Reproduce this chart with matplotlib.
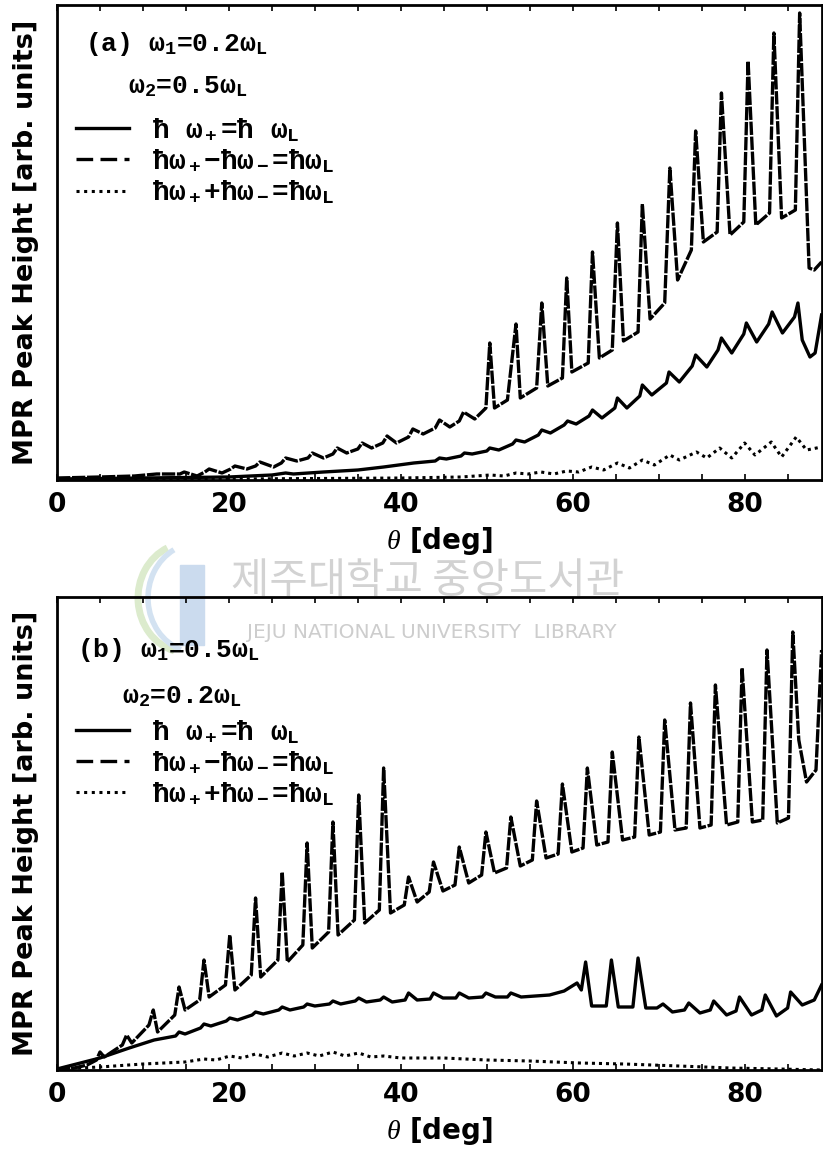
import matplotlib
matplotlib.use('Agg')
import matplotlib.pyplot as plt
from matplotlib.lines import Line2D
from matplotlib.patches import Rectangle, Arc
from matplotlib.ticker import MultipleLocator

plt.rcParams['mathtext.fontset'] = 'custom'
plt.rcParams['mathtext.rm'] = 'Liberation Mono:bold'
plt.rcParams['mathtext.bf'] = 'Liberation Mono:bold'
plt.rcParams['mathtext.it'] = 'Liberation Serif:italic'

# ---- panel (a): w1 = 0.2 wL, w2 = 0.5 wL  (peak heights in arb. units) ----
theta_a_plus = [0.0, 10.0, 20.0, 25.0, 26.6, 27.5, 31.0, 35.0, 38.0, 41.5, 44.0, 44.5, 45.3,
                47.0, 47.4, 48.3, 50.0, 50.35, 51.4, 53.0, 53.4, 54.4, 56.0, 56.4, 57.4,
                59.0, 59.4, 60.4, 61.9, 62.3, 63.4, 64.9, 65.2, 66.3, 67.8, 68.1, 69.2,
                70.9, 71.2, 72.4, 73.9, 74.3, 75.6, 76.9, 77.3, 78.5, 79.9, 80.2, 81.4,
                82.8, 83.2, 84.4, 85.8, 86.2, 86.7, 87.6, 88.2, 88.95]
height_a_plus = [1, 2, 3, 5, 7, 6, 8, 10, 13, 17, 19, 22, 21,
                 24, 27, 26, 29, 32, 30, 36, 40, 38, 45, 50, 47,
                 55, 59, 56, 64, 70, 62, 72, 82, 72, 84, 95, 85,
                 97, 108, 98, 114, 125, 113, 130, 142, 127, 146, 157, 138,
                 156, 168, 147, 163, 177, 140, 123, 127, 165]

theta_a_diff = [0.0, 5.0, 9.0, 11.6, 14.3, 14.8, 16.3, 17.2, 17.7, 19.2, 20.2, 20.7, 22.1,
                23.1, 23.6, 25.2, 26.1, 26.6, 27.9, 29.2, 29.7, 31.0, 32.1, 32.6, 33.7,
                35.0, 35.5, 36.6, 37.9, 38.4, 39.5, 40.9, 41.4, 42.6, 44.0, 44.5, 45.7,
                46.8, 47.3, 48.6, 49.9, 50.35, 50.9, 52.4, 53.4, 53.9, 55.8, 56.4, 57.1,
                58.8, 59.3, 59.9, 61.8, 62.3, 63.1, 64.6, 65.2, 65.9, 67.6, 68.1, 69.0,
                70.7, 71.3, 72.2, 73.8, 74.3, 75.2, 76.8, 77.3, 78.3, 79.9, 80.4, 81.3,
                82.9, 83.4, 84.3, 85.9, 86.4, 87.5, 88.1, 88.95]
height_a_diff = [2, 3, 4, 6, 6, 8, 4, 8, 11, 7, 11, 14, 11,
                 14, 18, 13, 17, 22, 19, 22, 27, 22, 26, 32, 27,
                 31, 37, 32, 37, 44, 37, 43, 51, 46, 52, 60, 53,
                 59, 68, 61, 72, 137, 72, 80, 156, 82, 92, 177, 94,
                 102, 202, 108, 117, 228, 122, 130, 257, 139, 148, 276, 161,
                 177, 312, 200, 230, 349, 238, 248, 387, 245, 258, 419, 255,
                 267, 447, 262, 270, 467, 212, 210, 218]

theta_a_sum = [0.0, 20.0, 40.0, 47.0, 50.4, 52.0, 53.4, 54.8, 56.3, 57.8, 59.3, 60.7, 62.2,
               63.6, 65.2, 66.6, 68.1, 69.5, 71.3, 72.4, 74.4, 75.6, 77.1, 78.5, 80.0,
               81.2, 83.1, 84.3, 86.0, 87.2, 88.95]
height_a_sum = [0.5, 1, 2, 3, 5, 4, 7, 6, 8, 6, 9, 8, 13,
                10, 17, 12, 20, 15, 25, 20, 28, 22, 32, 22, 37,
                25, 38, 23, 43, 30, 33]

# ---- panel (b): w1 = 0.5 wL, w2 = 0.2 wL ----
theta_b_plus = [0.0, 5.0, 8.4, 11.3, 13.8, 14.2, 14.9, 16.7, 17.1, 17.9, 19.7, 20.1, 21.0,
                22.7, 23.1, 24.0, 25.8, 26.2, 27.1, 28.7, 29.1, 30.0, 31.7, 32.1, 33.0,
                34.7, 35.1, 36.0, 37.6, 38.0, 39.0, 40.5, 40.9, 41.9, 43.4, 43.8, 44.9,
                46.4, 46.8, 47.9, 49.5, 49.9, 51.0, 52.4, 52.8, 54.0, 57.3, 59.0, 60.5,
                61.0, 61.5, 62.2, 63.9, 64.5, 65.3, 67.0, 67.6, 68.5, 69.8, 70.5, 71.6,
                73.0, 73.5, 74.8, 76.0, 76.4, 77.9, 79.0, 79.4, 80.8, 82.0, 82.4, 83.7,
                85.0, 85.35, 86.7, 88.1, 88.95]
height_b_plus = [1, 12, 22, 30, 34, 38, 36, 42, 46, 44, 49, 52, 50,
                 55, 58, 56, 60, 63, 60, 63, 66, 64, 66, 69, 66,
                 69, 72, 68, 70, 73, 68, 70, 77, 70, 71, 77, 72,
                 72, 77, 72, 73, 77, 73, 73, 77, 73, 75, 79, 87,
                 80, 108, 64, 64, 110, 63, 63, 112, 62, 62, 66, 58,
                 60, 67, 57, 60, 69, 55, 59, 73, 55, 60, 75, 54,
                 62, 78, 65, 70, 85]

theta_b_diff = [0.0, 2.0, 3.5, 4.6, 5.0, 5.5, 7.6, 8.1, 8.7, 10.7, 11.2, 11.7, 13.7,
                14.2, 14.9, 16.6, 17.1, 17.7, 19.6, 20.1, 20.7, 22.6, 23.1, 23.7, 25.7,
                26.2, 26.8, 28.6, 29.1, 29.7, 31.6, 32.1, 32.7, 34.6, 35.1, 35.8, 37.5,
                38.0, 38.8, 40.4, 40.9, 41.9, 43.3, 43.8, 44.9, 46.3, 46.8, 47.9, 49.4,
                49.9, 50.9, 52.3, 52.8, 53.9, 55.3, 55.8, 56.9, 58.3, 58.8, 59.9, 61.2,
                61.7, 62.8, 64.1, 64.6, 65.8, 67.2, 67.7, 68.9, 70.2, 70.7, 71.9, 73.2,
                73.7, 74.8, 76.1, 76.6, 77.9, 79.2, 79.7, 80.9, 82.1, 82.6, 83.8, 85.1,
                85.6, 86.3, 87.2, 88.3, 88.95]
height_b_diff = [1, 2, 5, 10, 18, 13, 25, 35, 27, 45, 60, 38, 55,
                 83, 60, 70, 110, 73, 85, 135, 80, 95, 172, 93, 110,
                 198, 108, 125, 227, 122, 138, 248, 135, 150, 275, 147, 160,
                 302, 157, 165, 193, 168, 178, 208, 179, 185, 223, 187, 195,
                 238, 197, 202, 253, 204, 210, 269, 212, 216, 286, 218, 222,
                 302, 225, 228, 318, 230, 233, 333, 235, 238, 350, 240, 242,
                 367, 242, 245, 385, 245, 248, 402, 248, 250, 420, 247, 252,
                 438, 330, 288, 300, 420]

theta_b_sum = [0.0, 5.0, 10.0, 14.9, 17.1, 18.5, 20.1, 21.5, 23.1, 24.5, 26.2, 27.6, 29.1,
               30.5, 32.1, 33.5, 35.1, 36.5, 38.0, 40.0, 45.0, 50.0, 55.0, 60.8, 66.0,
               72.4, 78.3, 84.0, 88.95]
height_b_sum = [1, 3, 6, 8, 11, 10, 14, 12, 16, 13, 17, 14, 17,
                14, 18, 14, 17, 13, 14, 12, 12, 10, 9, 7, 6,
                4, 2, 1, 0]

xticks = [0, 20, 40, 60, 80]


def draw_panel(ax, tp, hp, td, hd, ts, hs, ymax, tag, w1, w2, ytxt):
    """
    Draw the three MPR resonance curves of one panel

    ytxt : axes-fraction positions of the two parameter lines and the legend top
    """
    ax.plot(tp, hp, color='k', lw=2.4, solid_joinstyle='round')
    ax.plot(td, hd, color='k', lw=2.4, linestyle=(0, (4, 0.5)))
    ax.plot(ts, hs, color='k', lw=2.2, linestyle=(0, (1, 1.3)))

    ax.set_xlim(0, 89)
    ax.set_ylim(0, ymax)
    ax.set_facecolor('none')
    ax.set_yticks([])
    ax.set_xticks(xticks)
    ax.xaxis.set_minor_locator(MultipleLocator(5))
    ax.tick_params(axis='x', which='both', direction='in', top=True, length=4, width=1.2, pad=9)
    for lab in ax.get_xticklabels():
        lab.set_fontfamily(['Liberation Sans Narrow', 'DejaVu Sans'])
        lab.set_fontweight('bold')
        lab.set_fontsize(19)
    for sp in ax.spines.values():
        sp.set_linewidth(2.0)

    ax.set_xlabel(r'$\theta$ [deg]', fontsize=20, fontweight='bold', labelpad=5)
    ax.set_ylabel('MPR Peak Height [arb. units]', fontsize=19.5, fontweight='bold',
                  labelpad=13)

    txt = dict(transform=ax.transAxes, fontsize=19, fontfamily='Liberation Mono',
               fontweight='bold', va='center')
    ax.text(ytxt[0][0], ytxt[0][1], '(%s) ω$_1$=%sω$_\\mathrm{L}$' % (tag, w1), **txt)
    ax.text(ytxt[1][0], ytxt[1][1], 'ω$_2$=%sω$_\\mathrm{L}$' % w2, **txt)

    handles = [Line2D([], [], color='k', lw=2.4),
               Line2D([], [], color='k', lw=2.4, dashes=(5, 2.2)),
               Line2D([], [], color='k', lw=2.2, dashes=(1, 1.5))]
    labels = ['ħ ω$_+$=ħ ω$_\\mathrm{L}$',
              'ħω$_+$−ħω$_-$=ħω$_\\mathrm{L}$',
              'ħω$_+$+ħω$_-$=ħω$_\\mathrm{L}$']
    ax.legend(handles, labels, loc='upper left', bbox_to_anchor=(0.01, ytxt[2]),
              frameon=False, handlelength=1.9, handletextpad=0.85, labelspacing=0.12,
              borderaxespad=0, prop={'family': 'Liberation Mono', 'weight': 'bold', 'size': 20})


fig = plt.figure(figsize=(8.23, 11.56), dpi=100)

# library watermark between the panels
fig.add_artist(Rectangle((180 / 823, 1 - 645 / 1156), 24 / 823, 80 / 1156,
                         transform=fig.transFigure, color='#cbdbee', zorder=-2))
fig.add_artist(Arc((188 / 823, 1 - 598 / 1156), 100 / 823, 110 / 1156, theta1=120, theta2=250,
                   transform=fig.transFigure, color='#dcebcd', lw=5, zorder=-2))
fig.add_artist(Arc((198 / 823, 1 - 598 / 1156), 100 / 823, 110 / 1156, theta1=125, theta2=245,
                   transform=fig.transFigure, color='#d3e2f1', lw=4, zorder=-2))
fig.text(0.520, 1 - 581 / 1156, '제주대학교 중앙도서관', fontsize=30, color='#d2d2d2',
         ha='center', va='center', family=['Noto Sans CJK KR', 'DejaVu Sans'], zorder=-1)
fig.text(0.524, 1 - 632 / 1156, 'JEJU NATIONAL UNIVERSITY  LIBRARY', fontsize=14.5,
         color='#cdcdcd', ha='center', va='center', zorder=-1)

ax_a = fig.add_axes([57 / 823, 1 - 480 / 1156, 765 / 823, 475 / 1156])
ax_b = fig.add_axes([57 / 823, 1 - 1070 / 1156, 765 / 823, 473 / 1156])

draw_panel(ax_a, theta_a_plus, height_a_plus, theta_a_diff, height_a_diff,
           theta_a_sum, height_a_sum, 475, 'a', '0.2', '0.5',
           [(0.037, 0.918), (0.093, 0.829), 0.79])
draw_panel(ax_b, theta_b_plus, height_b_plus, theta_b_diff, height_b_diff,
           theta_b_sum, height_b_sum, 473, 'b', '0.5', '0.2',
           [(0.026, 0.888), (0.085, 0.790), 0.768])

fig.savefig('out.png', dpi=100)
